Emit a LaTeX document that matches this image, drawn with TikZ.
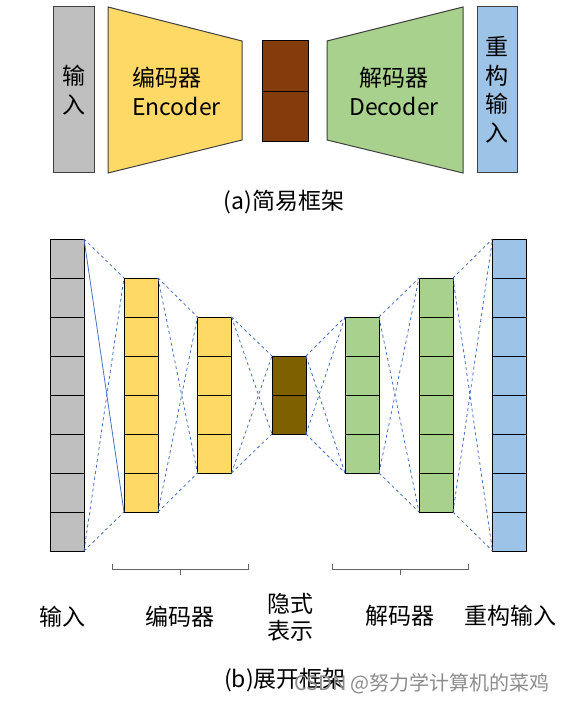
\documentclass[tikz,border=0pt]{standalone}
\usepackage{fontspec}
\setmainfont{Noto Sans CJK SC}
\usetikzlibrary{positioning}
\definecolor{inputgray}{HTML}{BFBFBF}
\definecolor{encyellow}{HTML}{FFD966}
\definecolor{codered}{HTML}{843C0C}
\definecolor{codebrown}{HTML}{7F6000}
\definecolor{decgreen}{HTML}{A9D18E}
\definecolor{outblue}{HTML}{9DC3E6}
\definecolor{linkblue}{HTML}{4472C4}
\tikzstyle{cell} = [rectangle, draw, line width=1pt, outer sep=0pt, minimum width=34pt, minimum height=39pt, inner sep=0pt]
\tikzstyle{bar} = [rectangle, draw=black!75, line width=1pt, outer sep=0pt, align=center, inner sep=0pt]
\tikzstyle{trap} = [draw=black!75, line width=1pt]
\tikzstyle{label text} = [font=\fontsize{23}{29}\selectfont, inner sep=0pt]
\tikzstyle{link} = [draw=linkblue, line width=0.8pt]
\tikzstyle{brace} = [draw=black!60, line width=1pt]

\begin{document}
\begin{tikzpicture}[x=1pt, y=-1pt]
        \useasboundingbox (0,0) rectangle (568,703);

        % (a) simple frame
        \node [bar, label text, fill=inputgray, minimum width=41pt, minimum height=166pt] (inbox) at (73.5,90) {输\\入};
        \draw [trap, fill=encyellow] (108,7) -- (242,41) -- (242,140) -- (108,173) -- cycle;
        \node [label text, anchor=west, align=left] (enctext) at (132,91) {编码器\\Encoder};
        \node [cell, fill=codered, minimum width=46pt, minimum height=50.5pt] (zt1) at (285,66.25) {};
        \node [cell, fill=codered, minimum width=46pt, minimum height=50.5pt, below=0pt of zt1] (zt2) {};
        \draw [trap, fill=decgreen] (327,41) -- (463,7) -- (463,173) -- (327,140) -- cycle;
        \node [label text, align=center] (dectext) at (394,91) {解码器\\Decoder};
        \node [bar, fill=outblue, minimum width=40pt, minimum height=166pt, font=\fontsize{23}{28.5}\selectfont] (outbox) at (497,90) {重\\构\\输\\入};
        \node [label text] (capa) at (284,202) {(a)简易框架};

        % (b) unfolded frame
        \foreach \cname/\cx/\cn/\ctop/\ccol in {inp/67/8/239/inputgray, enca/141/6/278/encyellow, encb/214.5/4/317/encyellow, code/289/2/356/codebrown, deca/362/4/317/decgreen, decb/436/6/278/decgreen, outp/509.5/8/239/outblue}
        {
          \foreach \i in {1,...,\cn}
            \node [cell, fill=\ccol] (\cname\i) at (\cx,{\ctop+39*\i-19.5}) {};
        }
        \foreach \a/\na/\b/\nb/\st in {inp/8/enca/6/solid, enca/6/encb/4/dashed, encb/4/code/2/dashed, code/2/deca/4/dashed, deca/4/decb/6/dashed, decb/6/outp/8/dashed}
        {
          \draw [link, dashed] (\a1.north east) -- (\b1.north west);
          \draw [link, \st] (\a1.north east) -- (\b\nb.south west);
          \draw [link, dashed] (\a\na.south east) -- (\b1.north west);
          \draw [link, dashed] (\a\na.south east) -- (\b\nb.south west);
        }

        \draw [brace] (112,564) -- (112,569) -- (248,569) -- (248,564);
        \draw [brace] (180,569) -- (180,575);
        \draw [brace] (332,564) -- (332,569) -- (468,569) -- (468,564);
        \draw [brace] (400,569) -- (400,575);

        \node [label text] (inlabel) at (62.5,617) {输入};
        \node [label text] (enclabel) at (180,617) {编码器};
        \node [label text, align=center, font=\fontsize{23}{27}\selectfont] (codelabel) at (290,617) {隐式\\表示};
        \node [label text] (declabel) at (400,616) {解码器};
        \node [label text] (outlabel) at (510,616) {重构输入};
        \node [label text] (capb) at (285,680) {(b)展开框架};
        \node [inner sep=0pt, text=black!45, font=\fontsize{20}{24}\selectfont] (mark) at (422,684) {CSDN @努力学计算机的菜鸡};
\end{tikzpicture}
\end{document}
